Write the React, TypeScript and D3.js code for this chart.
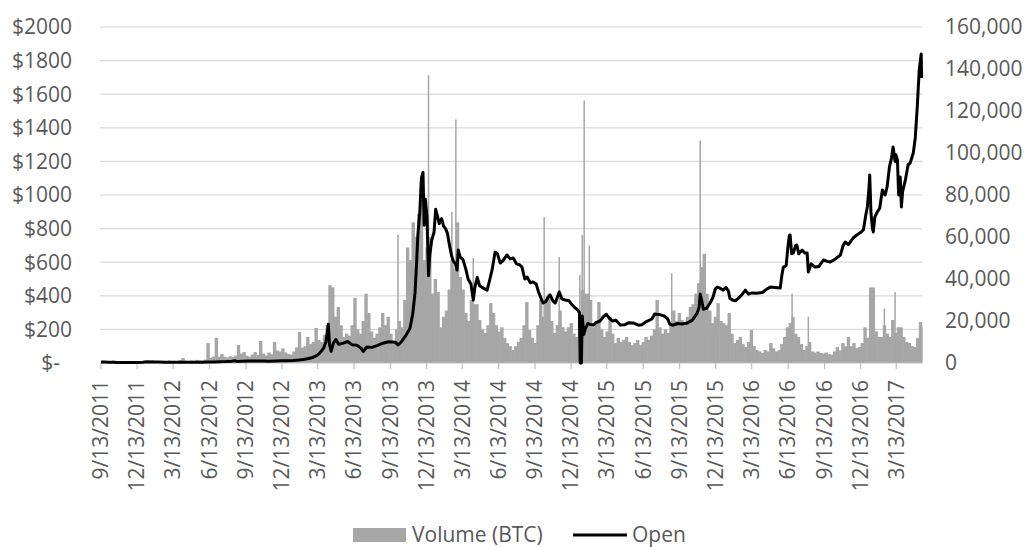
import React from 'react';
import * as d3 from 'd3';

// ---------- DATA ----------
const leftTickValues = [0, 200, 400, 600, 800, 1000, 1200, 1400, 1600, 1800, 2000];
const rightTickValues = [0, 20000, 40000, 60000, 80000, 100000, 120000, 140000, 160000];
const axisStart = '2011-09-13';
const axisEnd = '2017-05-17';
const xTickCount = 23; // quarterly ticks from 9/13/2011

// Weekly volume (thousands of BTC), one value per week from 2011-09-13
const volumeWeeklyK = [
  0.6, 0.8, 0.5, 0.9, 1.2, 0.7, 0.6, 0.9, 0.8, 0.5, 0.7, 1.0, 0.8,
  0.6, 0.9, 1.1, 0.7, 0.8, 1.3, 0.9, 0.7, 1.0, 0.8, 0.6, 1.2, 0.9,
  1.0, 0.8, 1.4, 2.4, 1.1, 0.9, 1.2, 1.0, 1.5, 1.3, 1.1, 1.6,
  9.5, 2.5, 3.0, 12, 3.0, 4.3, 3.0, 2.6, 3.2, 2.8, 3.5,
  8.6, 4.5, 5.2, 3.5, 3.0, 4.0, 5.2, 3.8, 10.5, 4.5, 3.6, 5.0, 4.2,
  10.0, 6.0, 5.5, 7.0, 5.0, 4.3, 4.0, 5.5, 7.5, 14.8, 7.3, 8.0, 12.4,
  9.0, 10.0, 16.7, 11, 10, 13.3, 18, 37, 36, 22, 26.7, 18, 12.4,
  14, 13, 18, 31, 16, 14, 20, 33, 23.8, 15, 12, 14, 17,
  23.8, 18, 22, 14, 9.5, 16, 20, 17, 30, 55, 49, 67, 60,
  71, 77.6, 49, 55, 60, 33, 40, 33.8, 17, 22, 25, 35, 49,
  45, 67, 41, 35, 23.8, 20, 30, 28, 28, 20.5, 16, 14.3, 18,
  28.5, 23.8, 18, 15, 17, 12, 9.5, 8, 6.2, 8, 10, 12, 18,
  29, 15.7, 12, 9.5, 18, 30, 22, 30, 33, 20, 14.3, 18, 25,
  17, 15, 17, 19, 14, 12.4, 20, 35, 33, 33, 30, 17, 20,
  29, 16, 12.4, 15, 22, 14, 9.5, 12, 10, 11, 12.4, 10, 8.5,
  9.5, 11, 8.5, 10, 12.4, 11, 13, 16, 30, 17, 14, 16, 14.3,
  18, 25, 20, 23.8, 20.5, 18, 22, 26.7, 28, 33, 38, 45.7, 52,
  33, 25, 19, 22, 28.5, 20, 19, 18, 23.8, 14, 9.5, 11, 12.4,
  9, 7.6, 10, 15.7, 8, 6.2, 5.5, 4.8, 6.2, 5.5, 9.5, 7, 5.5,
  6.2, 9, 12.4, 17, 19, 22, 14, 12.4, 9, 6.2, 8, 10, 5.5,
  5, 5.5, 4.8, 4.5, 5, 4.2, 4, 5.5, 7.6, 6, 9.5, 8, 12.4,
  8, 9.5, 7, 7.6, 9.5, 17, 12, 36, 36, 15, 12.4, 12.4, 18,
  14, 12.4, 20.5, 14.3, 17, 17, 12.4, 10, 9.5, 8, 7.6, 12, 19.5, 17,
];

// Single-day volume spikes (BTC)
const volumeSpikes: [string, number][] = [
  ['2013-10-02', 61000], ['2013-12-18', 137000], ['2014-02-15', 72000], ['2014-02-25', 116000],
  ['2014-04-10', 50000], ['2014-10-06', 69500], ['2014-11-13', 50400], ['2015-01-04', 41900],
  ['2015-01-10', 61000], ['2015-01-15', 125000], ['2015-01-28', 56000], ['2015-08-24', 42800],
  ['2015-11-04', 106000], ['2016-06-23', 33000], ['2016-08-03', 22000], ['2017-02-11', 26000],
  ['2017-03-10', 33800],
];

// Open price (USD)
const openPrice: [string, number][] = [
  ['2011-09-13', 5.9], ['2011-09-22', 5.3], ['2011-10-01', 5.0], ['2011-10-12', 4.2], ['2011-10-22', 3.2],
  ['2011-11-01', 3.3], ['2011-11-12', 2.9], ['2011-11-20', 2.3], ['2011-12-01', 3.0], ['2011-12-15', 3.2],
  ['2011-12-28', 4.2], ['2012-01-08', 6.8], ['2012-01-20', 6.3], ['2012-02-05', 5.6], ['2012-02-20', 4.5],
  ['2012-03-05', 4.9], ['2012-03-25', 4.8], ['2012-04-15', 5.0], ['2012-05-05', 5.1], ['2012-05-25', 5.1],
  ['2012-06-10', 5.6], ['2012-06-25', 6.6], ['2012-07-10', 7.6], ['2012-07-25', 8.8], ['2012-08-08', 11],
  ['2012-08-16', 13.5], ['2012-08-20', 9.5], ['2012-09-01', 10.5], ['2012-09-18', 12.1], ['2012-10-05', 12.3],
  ['2012-10-25', 11.2], ['2012-11-10', 11], ['2012-11-28', 12.4], ['2012-12-12', 13.4], ['2012-12-28', 13.4],
  ['2013-01-10', 14.2], ['2013-01-25', 17.5], ['2013-02-05', 21], ['2013-02-18', 26.5], ['2013-03-01', 33],
  ['2013-03-12', 46], ['2013-03-20', 63], ['2013-03-28', 88], ['2013-04-03', 125], ['2013-04-09', 230],
  ['2013-04-12', 110], ['2013-04-16', 70], ['2013-04-22', 120], ['2013-04-28', 140], ['2013-05-05', 112],
  ['2013-05-15', 117], ['2013-05-28', 128], ['2013-06-08', 108], ['2013-06-20', 105], ['2013-07-01', 88],
  ['2013-07-06', 68], ['2013-07-15', 95], ['2013-07-28', 93], ['2013-08-10', 103], ['2013-08-25', 118],
  ['2013-09-08', 126], ['2013-09-25', 124], ['2013-10-02', 108], ['2013-10-10', 125], ['2013-10-22', 165],
  ['2013-11-01', 205], ['2013-11-08', 290], ['2013-11-14', 420], ['2013-11-18', 600], ['2013-11-21', 760],
  ['2013-11-26', 900], ['2013-11-30', 1100], ['2013-12-04', 1135], ['2013-12-07', 820], ['2013-12-10', 975],
  ['2013-12-14', 870], ['2013-12-18', 520], ['2013-12-21', 640], ['2013-12-26', 730], ['2014-01-01', 780],
  ['2014-01-05', 915], ['2014-01-09', 880], ['2014-01-14', 830], ['2014-01-20', 860], ['2014-01-25', 815],
  ['2014-01-30', 800], ['2014-02-04', 770], ['2014-02-09', 700], ['2014-02-14', 640], ['2014-02-18', 610],
  ['2014-02-24', 590], ['2014-02-28', 553], ['2014-03-03', 672], ['2014-03-08', 630], ['2014-03-15', 615],
  ['2014-03-22', 560], ['2014-03-28', 500], ['2014-04-04', 470], ['2014-04-10', 375], ['2014-04-14', 450],
  ['2014-04-20', 510], ['2014-04-26', 460], ['2014-05-02', 450], ['2014-05-10', 440], ['2014-05-15', 434],
  ['2014-05-22', 500], ['2014-05-28', 560], ['2014-06-04', 660], ['2014-06-10', 650], ['2014-06-17', 595],
  ['2014-06-24', 610], ['2014-07-04', 643], ['2014-07-12', 620], ['2014-07-20', 625], ['2014-07-28', 590],
  ['2014-08-05', 585], ['2014-08-11', 571], ['2014-08-18', 500], ['2014-08-24', 512], ['2014-09-01', 478],
  ['2014-09-08', 482], ['2014-09-16', 470], ['2014-09-22', 420], ['2014-10-03', 357], ['2014-10-10', 365],
  ['2014-10-16', 393], ['2014-10-21', 405], ['2014-10-28', 370], ['2014-11-03', 357], ['2014-11-13', 423],
  ['2014-11-20', 380], ['2014-11-28', 375], ['2014-12-08', 370], ['2014-12-16', 345], ['2014-12-22', 330],
  ['2014-12-28', 320], ['2015-01-03', 300], ['2015-01-05', 0], ['2015-01-08', 0], ['2015-01-10', 280],
  ['2015-01-14', 170], ['2015-01-18', 205], ['2015-01-24', 235], ['2015-01-30', 230], ['2015-02-07', 226],
  ['2015-02-14', 240], ['2015-02-24', 250], ['2015-03-04', 275], ['2015-03-12', 290], ['2015-03-20', 265],
  ['2015-03-27', 250], ['2015-04-05', 255], ['2015-04-16', 226], ['2015-04-28', 228], ['2015-05-08', 240],
  ['2015-05-20', 238], ['2015-06-01', 225], ['2015-06-10', 228], ['2015-06-20', 245], ['2015-07-05', 262],
  ['2015-07-12', 292], ['2015-07-25', 288], ['2015-08-05', 280], ['2015-08-14', 262], ['2015-08-19', 232],
  ['2015-08-26', 225], ['2015-09-08', 235], ['2015-09-20', 232], ['2015-10-04', 240], ['2015-10-15', 255],
  ['2015-10-27', 295], ['2015-11-01', 330], ['2015-11-04', 410], ['2015-11-07', 380], ['2015-11-12', 320],
  ['2015-11-20', 325], ['2015-11-29', 357], ['2015-12-06', 390], ['2015-12-12', 440], ['2015-12-17', 452],
  ['2015-12-24', 445], ['2016-01-01', 434], ['2016-01-08', 450], ['2016-01-14', 430], ['2016-01-18', 385],
  ['2016-01-24', 375], ['2016-02-01', 370], ['2016-02-08', 385], ['2016-02-17', 405], ['2016-02-26', 434],
  ['2016-03-05', 410], ['2016-03-14', 417], ['2016-03-25', 415], ['2016-04-09', 420], ['2016-04-20', 440],
  ['2016-04-29', 452], ['2016-05-10', 450], ['2016-05-24', 446], ['2016-05-28', 520], ['2016-06-01', 571],
  ['2016-06-08', 580], ['2016-06-12', 680], ['2016-06-16', 760], ['2016-06-18', 762], ['2016-06-22', 650],
  ['2016-06-26', 655], ['2016-07-02', 700], ['2016-07-05', 702], ['2016-07-10', 650], ['2016-07-18', 672],
  ['2016-07-25', 655], ['2016-07-31', 655], ['2016-08-03', 542], ['2016-08-10', 590], ['2016-08-20', 571],
  ['2016-08-30', 575], ['2016-09-10', 613], ['2016-09-20', 605], ['2016-09-27', 601], ['2016-10-08', 615],
  ['2016-10-23', 643], ['2016-10-30', 700], ['2016-11-04', 720], ['2016-11-12', 705], ['2016-11-24', 744],
  ['2016-12-05', 765], ['2016-12-12', 775], ['2016-12-20', 792], ['2016-12-26', 880], ['2016-12-30', 929],
  ['2017-01-03', 1040], ['2017-01-05', 1119], ['2017-01-08', 900], ['2017-01-12', 800], ['2017-01-14', 780],
  ['2017-01-18', 870], ['2017-01-24', 899], ['2017-01-30', 920], ['2017-02-06', 1030], ['2017-02-13', 1000],
  ['2017-02-18', 1050], ['2017-02-24', 1170], ['2017-03-01', 1220], ['2017-03-05', 1286], ['2017-03-10', 1200],
  ['2017-03-12', 1240], ['2017-03-16', 1208], ['2017-03-19', 1000], ['2017-03-23', 1107], ['2017-03-26', 929],
  ['2017-03-29', 1020], ['2017-04-05', 1089], ['2017-04-12', 1180], ['2017-04-17', 1190], ['2017-04-25', 1250],
  ['2017-04-30', 1340], ['2017-05-05', 1524], ['2017-05-10', 1744], ['2017-05-15', 1839], ['2017-05-16', 1696],
];

// ---------- CHART ----------
const parse = d3.utcParse('%Y-%m-%d');
const FONT = "'Open Sans', sans-serif";
const TEXT = '#595959';
const FS = 21;

export default function App() {
  const W = 1025, H = 547;
  const start = parse(axisStart)!;
  const x = d3.scaleUtc().domain([start, parse(axisEnd)!]).range([101, 922]);
  const yL = d3.scaleLinear().domain([0, 2000]).range([363, 27]);
  const yR = d3.scaleLinear().domain([0, 160000]).range([363, 27]);
  const fmtR = d3.format(',');
  const xTicks = d3.range(xTickCount).map((i) => d3.utcMonth.offset(start, 3 * i));
  const fmtX = (d: Date) => `${d.getUTCMonth() + 1}/${d.getUTCDate()}/${d.getUTCFullYear()}`;

  const line = d3
    .line<[string, number]>()
    .x((d) => x(parse(d[0])!))
    .y((d) => yL(d[1]));

  const weekly = volumeWeeklyK.map((v, i) => {
    const d0 = d3.utcDay.offset(start, 7 * i);
    const d1 = d3.utcDay.offset(start, 7 * (i + 1));
    return { x0: x(d0), x1: Math.min(x(d1), 922), v: v * 1000 };
  });

  return (
    <svg width={W} height={H} style={{ position: 'absolute', left: 0, top: 0, background: '#fff' }}>
      {/* gridlines */}
      {leftTickValues.slice(1).map((t) => (
        <line key={t} x1={100} x2={922} y1={yL(t)} y2={yL(t)} stroke="#d9d9d9" strokeWidth={1.2} />
      ))}
      {/* volume bars */}
      <g fill="#a6a6a6">
        {weekly.map((b, i) => (
          <rect
            key={i}
            x={b.x0}
            width={Math.max(0.5, b.x1 - b.x0 + 0.6)}
            y={yR(b.v)}
            height={363 - yR(b.v)}
          />
        ))}
        {volumeSpikes.map(([d, v], i) => (
          <rect key={'s' + i} x={x(parse(d)!) - 0.75} width={1.5} y={yR(v)} height={363 - yR(v)} />
        ))}
      </g>
      {/* x axis */}
      <line x1={100} x2={922} y1={363} y2={363} stroke="#bfbfbf" strokeWidth={1.2} />
      {xTicks.map((d, i) => (
        <g key={i}>
          <line x1={x(d)} x2={x(d)} y1={363} y2={369} stroke="#bfbfbf" strokeWidth={1.2} />
          <text
            transform={`translate(${x(d)},380) rotate(-90)`}
            textAnchor="end"
            dy="0.35em"
            fontFamily={FONT}
            fontSize={FS}
            fill={TEXT}
          >
            {fmtX(d)}
          </text>
        </g>
      ))}
      {/* price line */}
      <path d={line(openPrice) || ''} fill="none" stroke="#000" strokeWidth={3} strokeLinejoin="round" />
      {/* left axis labels */}
      {leftTickValues.map((t) => (
        <text
          key={t}
          x={t === 0 ? 60 : 72}
          y={yL(t)}
          dy="0.35em"
          textAnchor="end"
          fontFamily={FONT}
          fontSize={FS}
          fill={TEXT}
        >
          {t === 0 ? '$-' : `$${t}`}
        </text>
      ))}
      {/* right axis labels */}
      {rightTickValues.map((t) => (
        <text key={t} x={945} y={yR(t)} dy="0.35em" textAnchor="start" fontFamily={FONT} fontSize={FS} fill={TEXT}>
          {fmtR(t)}
        </text>
      ))}
      {/* legend */}
      <rect x={353} y={528} width={53} height={14} fill="#a6a6a6" />
      <text x={412} y={535} dy="0.35em" fontFamily={FONT} fontSize={FS} fill={TEXT}>
        Volume (BTC)
      </text>
      <line x1={573} x2={627} y1={535} y2={535} stroke="#000" strokeWidth={3} />
      <text x={632} y={535} dy="0.35em" fontFamily={FONT} fontSize={FS} fill={TEXT}>
        Open
      </text>
    </svg>
  );
}
